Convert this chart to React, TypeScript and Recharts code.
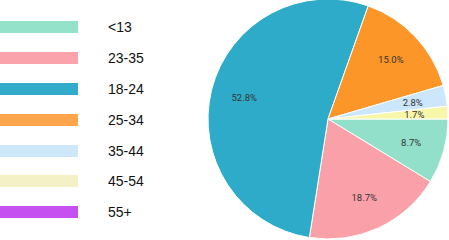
import React from "react";
import { PieChart, Pie, Cell } from "recharts";

const ageGroups = ["<13", "23-35", "18-24", "25-34", "35-44", "45-54", "55+"];
// share of visitors in %, 55+ too small to show a slice
const shares = [8.7, 18.7, 52.8, 15.0, 2.8, 1.7, 0];
const sliceColors = [
  "#93e0ca",
  "#f9a0a9",
  "#2eabc9",
  "#fd9628",
  "#cce6fb",
  "#f8f6a9",
  "#c44ff0",
];
const swatchColors = [
  "#95e2cb",
  "#fba3ab",
  "#31abc9",
  "#ffa64c",
  "#cde7fb",
  "#f4f1c6",
  "#c551f1",
];

const data = ageGroups.map((name, i) => ({ name, value: shares[i] }));

const RADIAN = Math.PI / 180;

const renderLabel = (props: any) => {
  const { cx, cy, midAngle, outerRadius, value } = props;
  if (!value || value < 1) return null;
  const r = outerRadius * 0.72;
  const x = cx + r * Math.cos(-midAngle * RADIAN);
  const y = cy + r * Math.sin(-midAngle * RADIAN);
  return (
    <text
      x={x}
      y={y}
      fill="#333"
      fontSize={9.5}
      fontFamily="Roboto, sans-serif"
      textAnchor="middle"
      dominantBaseline="central"
    >
      {Number(value).toFixed(1)}%
    </text>
  );
};

export default function App() {
  return (
    <div
      style={{
        position: "absolute",
        left: 0,
        top: 0,
        width: 449,
        height: 240,
        background: "#fff",
      }}
    >
      <PieChart
        width={449}
        height={240}
        margin={{ top: 0, right: 0, bottom: 0, left: 0 }}
      >
        <Pie
          data={data}
          dataKey="value"
          nameKey="name"
          cx={328}
          cy={119}
          outerRadius={120}
          startAngle={0}
          endAngle={-360}
          stroke="#fff"
          strokeWidth={1}
          label={renderLabel}
          labelLine={false}
          isAnimationActive={false}
        >
          {data.map((d, i) => (
            <Cell key={d.name} fill={sliceColors[i]} />
          ))}
        </Pie>
      </PieChart>
      <div
        style={{
          position: "absolute",
          left: 0,
          top: 12,
          fontFamily: "'Liberation Sans', Arial, sans-serif",
        }}
      >
        {ageGroups.map((g, i) => (
          <div
            key={g}
            style={{ display: "flex", alignItems: "center", height: 30.8 }}
          >
            <div
              style={{
                width: 78,
                height: 12,
                background: swatchColors[i],
                marginRight: 30,
              }}
            />
            <span style={{ fontSize: 14, color: "#111" }}>{g}</span>
          </div>
        ))}
      </div>
    </div>
  );
}
